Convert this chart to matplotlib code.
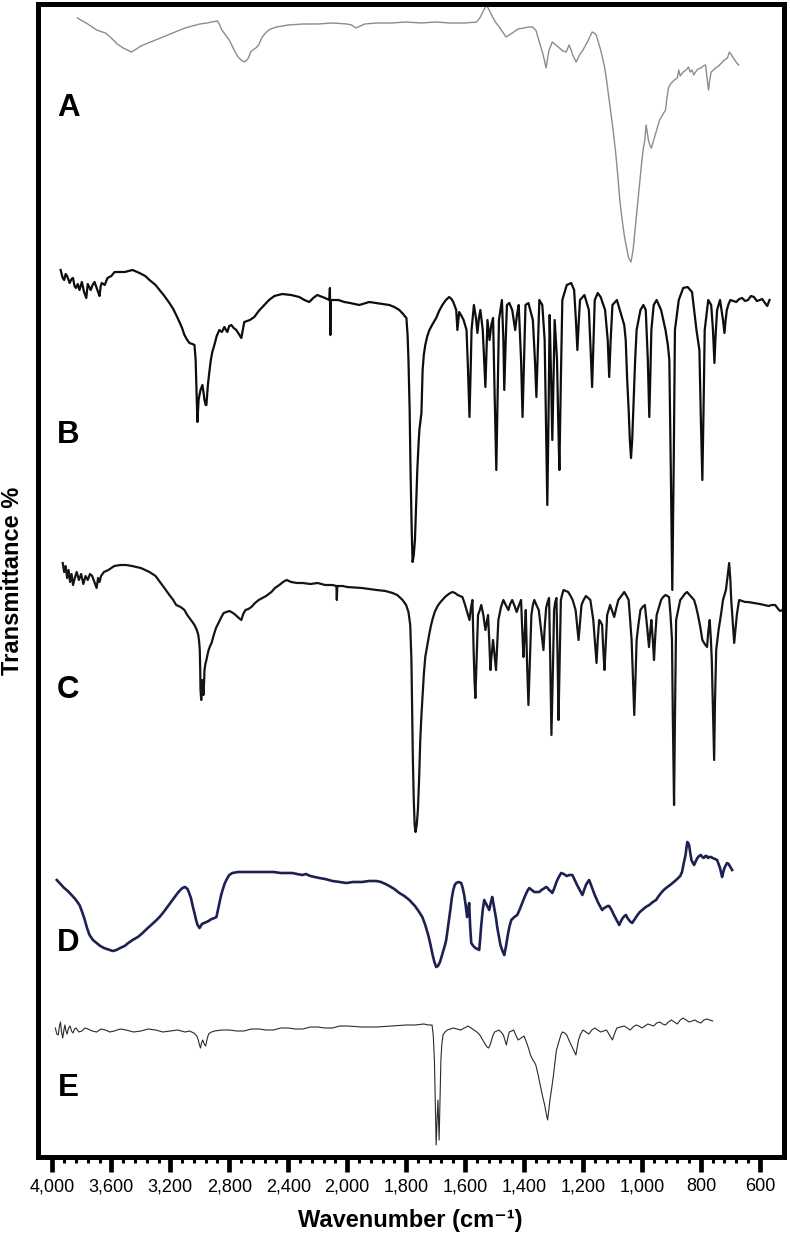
import numpy as np
import matplotlib
matplotlib.use("Agg")
import matplotlib.pyplot as plt
from matplotlib.ticker import FixedLocator, FixedFormatter

plt.rcParams['font.family'] = ['Liberation Sans', 'DejaVu Sans']

# spectra: (wavenumber cm-1, depth of trace from top of frame)
spec_a = np.array([
    (3830, 18), (3760, 24), (3700, 30), (3640, 33), (3600, 38), (3560, 44), (3520, 48), (3463, 52),
    (3430, 49), (3400, 46), (3350, 43), (3300, 40), (3250, 37), (3200, 34), (3150, 31), (3100, 28),
    (3050, 26), (3000, 24), (2950, 23), (2920, 22), (2879, 21), (2865, 25), (2850, 30), (2820, 36),
    (2800, 40), (2780, 46), (2760, 52), (2740, 57), (2720, 60), (2697, 62), (2680, 60), (2670, 58),
    (2655, 52), (2640, 50), (2620, 48), (2600, 45), (2580, 38), (2560, 34), (2540, 31), (2520, 29),
    (2480, 27), (2440, 26), (2400, 25), (2300, 24), (2200, 24), (2100, 23), (2000, 24), (1985, 25),
    (1970, 28), (1955, 26), (1940, 24), (1900, 23), (1850, 23), (1800, 22), (1750, 23), (1700, 22),
    (1650, 23), (1600, 23), (1561, 22), (1550, 18), (1540, 12), (1528, 5), (1520, 9), (1510, 15),
    (1497, 22), (1484, 27), (1470, 33), (1461, 37), (1450, 35), (1440, 33), (1420, 29), (1400, 28),
    (1385, 27), (1372, 27), (1360, 30), (1345, 45), (1335, 55), (1325, 68), (1320, 58), (1315, 50),
    (1304, 42), (1292, 45), (1280, 48), (1268, 51), (1257, 52), (1247, 45), (1240, 50), (1235, 55),
    (1223, 62), (1212, 55), (1200, 50), (1185, 42), (1169, 32), (1162, 33), (1155, 35), (1140, 50),
    (1128, 65), (1120, 80), (1111, 100), (1100, 125), (1090, 150), (1082, 175), (1075, 200),
    (1068, 218), (1060, 235), (1052, 248), (1045, 258), (1037, 262), (1030, 250), (1025, 235),
    (1020, 220), (1015, 205), (1010, 190), (1005, 175), (1000, 160), (995, 148), (990, 140),
    (986, 125), (982, 132), (978, 140), (972, 146), (968, 148), (962, 142), (955, 135), (948, 128),
    (940, 120), (930, 115), (920, 110), (915, 98), (910, 88), (905, 85), (900, 83), (890, 80),
    (880, 78), (875, 70), (870, 76), (860, 72), (850, 70), (842, 67), (836, 72), (830, 70),
    (824, 75), (818, 72), (810, 69), (800, 68), (792, 66), (784, 65), (779, 78), (774, 90),
    (770, 80), (765, 72), (757, 70), (750, 68), (740, 66), (730, 63), (720, 60), (710, 58),
    (703, 52), (696, 55), (690, 58), (685, 60), (678, 63), (672, 65),
])

spec_b = np.array([
    (3944, 270), (3930, 278), (3920, 280), (3910, 274), (3900, 276), (3883, 283), (3870, 279),
    (3860, 278), (3850, 286), (3840, 288), (3828, 284), (3816, 290), (3808, 286), (3800, 282),
    (3785, 292), (3770, 298), (3760, 284), (3750, 287), (3740, 290), (3727, 285), (3714, 282),
    (3700, 288), (3690, 292), (3680, 296), (3672, 286), (3665, 283), (3655, 284), (3645, 285),
    (3626, 278), (3600, 276), (3578, 272), (3540, 272), (3510, 272), (3456, 270), (3409, 273),
    (3370, 276), (3341, 280), (3300, 285), (3273, 290), (3240, 296), (3206, 303), (3180, 309),
    (3160, 315), (3138, 322), (3120, 328), (3104, 335), (3085, 340), (3070, 343), (3050, 344),
    (3036, 345), (3028, 360), (3022, 390), (3016, 422), (3012, 410), (3008, 400), (3002, 395),
    (2995, 390), (2990, 388), (2982, 385), (2975, 392), (2968, 400), (2960, 405), (2955, 405),
    (2945, 385), (2935, 372), (2925, 360), (2915, 352), (2901, 345), (2885, 336), (2867, 330),
    (2850, 332), (2833, 327), (2822, 330), (2813, 332), (2800, 326), (2786, 325), (2770, 328),
    (2752, 330), (2735, 334), (2718, 338), (2708, 330), (2698, 322), (2680, 321), (2660, 320),
    (2630, 317), (2600, 311), (2562, 305), (2530, 300), (2494, 296), (2440, 294), (2380, 295),
    (2325, 297), (2290, 300), (2257, 302), (2230, 298), (2203, 295), (2150, 298), (2121, 300),
    (2117, 288), (2114, 335), (2111, 300), (2080, 300), (2060, 300), (2040, 301), (2019, 302),
    (1990, 303), (1959, 305), (1925, 302), (1880, 304), (1857, 305), (1840, 307), (1823, 310),
    (1810, 314), (1805, 316), (1799, 318), (1795, 335), (1792, 360), (1788, 410), (1785, 470),
    (1781, 530), (1778, 562), (1774, 555), (1770, 540), (1766, 505), (1762, 470), (1758, 445),
    (1755, 430), (1748, 413), (1744, 370), (1740, 355), (1735, 345), (1728, 336), (1721, 330),
    (1710, 324), (1698, 318), (1688, 311), (1677, 305), (1665, 300), (1654, 297), (1646, 299),
    (1640, 302), (1630, 310), (1626, 330), (1620, 312), (1612, 316), (1605, 320), (1595, 330),
    (1590, 370), (1585, 417), (1581, 370), (1578, 330), (1570, 305), (1563, 318), (1558, 333),
    (1553, 318), (1548, 310), (1540, 330), (1531, 387), (1527, 350), (1524, 320), (1517, 340),
    (1511, 325), (1505, 318), (1500, 390), (1494, 470), (1489, 390), (1485, 320), (1475, 300),
    (1470, 340), (1467, 390), (1462, 340), (1458, 305), (1450, 303), (1440, 310), (1430, 330),
    (1424, 315), (1418, 305), (1410, 360), (1405, 417), (1400, 360), (1395, 305), (1385, 303),
    (1370, 320), (1363, 360), (1358, 397), (1353, 350), (1348, 300), (1338, 305), (1330, 340),
    (1325, 430), (1321, 505), (1317, 420), (1313, 315), (1308, 380), (1304, 440), (1300, 380),
    (1296, 320), (1288, 360), (1284, 420), (1280, 470), (1275, 380), (1270, 300), (1255, 285),
    (1240, 283), (1230, 290), (1224, 320), (1219, 350), (1214, 320), (1210, 300), (1195, 295),
    (1180, 310), (1174, 350), (1169, 387), (1164, 340), (1160, 300), (1150, 293), (1140, 297),
    (1125, 310), (1116, 340), (1111, 377), (1106, 340), (1100, 305), (1085, 300), (1070, 315),
    (1060, 325), (1055, 340), (1050, 380), (1045, 410), (1041, 440), (1037, 458), (1033, 440),
    (1028, 400), (1023, 360), (1018, 330), (1005, 310), (995, 305), (987, 310), (980, 360),
    (975, 417), (971, 370), (968, 330), (960, 305), (950, 300), (935, 310), (920, 330), (912, 345),
    (907, 360), (902, 470), (897, 590), (892, 460), (888, 330), (875, 300), (860, 288), (845, 287),
    (830, 292), (815, 330), (805, 350), (800, 420), (795, 480), (791, 410), (787, 330), (775, 300),
    (765, 305), (759, 330), (754, 363), (750, 335), (745, 310), (735, 300), (725, 320), (720, 333),
    (716, 320), (712, 310), (706, 304), (700, 300), (690, 301), (680, 302), (670, 299), (660, 298),
    (650, 301), (640, 300), (630, 296), (620, 297), (610, 301), (600, 300), (592, 299), (585, 302),
    (575, 306), (567, 300),
])

spec_c = np.array([
    (3930, 563), (3920, 572), (3910, 566), (3900, 578), (3890, 570), (3880, 582), (3870, 574),
    (3860, 585), (3848, 578), (3835, 572), (3820, 580), (3805, 574), (3790, 584), (3775, 576),
    (3760, 580), (3745, 574), (3730, 576), (3715, 582), (3700, 588), (3690, 578), (3680, 582),
    (3670, 576), (3650, 572), (3620, 570), (3580, 566), (3540, 565), (3500, 565), (3460, 566),
    (3400, 568), (3341, 572), (3300, 576), (3280, 580), (3240, 588), (3206, 595), (3180, 600),
    (3160, 605), (3130, 607), (3104, 610), (3085, 615), (3070, 618), (3050, 622), (3036, 625),
    (3020, 630), (3010, 635), (3004, 642), (3000, 650), (2997, 670), (2995, 690), (2990, 700),
    (2986, 690), (2982, 680), (2978, 688), (2975, 695), (2970, 680), (2968, 670), (2962, 664),
    (2955, 660), (2948, 655), (2940, 650), (2930, 646), (2920, 643), (2905, 635), (2890, 628),
    (2870, 622), (2853, 617), (2838, 613), (2820, 612), (2800, 611), (2785, 612), (2765, 614),
    (2750, 616), (2735, 618), (2718, 620), (2705, 614), (2690, 610), (2670, 609), (2650, 607),
    (2625, 603), (2600, 600), (2575, 598), (2550, 596), (2514, 592), (2490, 588), (2460, 585),
    (2435, 582), (2411, 580), (2380, 582), (2340, 583), (2300, 583), (2250, 584), (2200, 583),
    (2150, 585), (2100, 585), (2073, 586), (2070, 600), (2067, 586), (2030, 586), (2000, 587),
    (1950, 588), (1900, 590), (1870, 591), (1846, 593), (1830, 595), (1812, 600), (1800, 605),
    (1792, 612), (1786, 625), (1782, 660), (1780, 700), (1777, 760), (1774, 800), (1771, 825),
    (1768, 832), (1764, 825), (1760, 810), (1756, 780), (1752, 740), (1748, 715), (1745, 700),
    (1740, 675), (1735, 657), (1728, 645), (1722, 635), (1716, 626), (1711, 620), (1703, 612),
    (1695, 607), (1686, 603), (1677, 600), (1668, 597), (1660, 595), (1650, 593), (1643, 592),
    (1634, 593), (1625, 595), (1617, 596), (1609, 597), (1602, 603), (1595, 610), (1590, 615),
    (1585, 620), (1580, 608), (1575, 600), (1571, 650), (1568, 680), (1565, 698), (1561, 660),
    (1556, 615), (1550, 610), (1545, 605), (1538, 615), (1531, 630), (1526, 622), (1522, 615),
    (1518, 640), (1514, 670), (1510, 655), (1505, 640), (1500, 655), (1495, 670), (1491, 645),
    (1487, 620), (1478, 607), (1470, 600), (1462, 605), (1453, 610), (1447, 604), (1440, 600),
    (1432, 606), (1425, 612), (1418, 606), (1410, 600), (1406, 630), (1402, 657), (1398, 635),
    (1394, 610), (1390, 660), (1385, 705), (1380, 660), (1375, 615), (1370, 605), (1365, 600),
    (1358, 605), (1350, 610), (1342, 630), (1334, 650), (1330, 628), (1325, 608), (1320, 602),
    (1315, 598), (1311, 660), (1307, 735), (1302, 670), (1298, 610), (1294, 602), (1290, 598),
    (1286, 660), (1283, 720), (1279, 660), (1275, 600), (1270, 594), (1266, 590), (1258, 591),
    (1250, 592), (1242, 596), (1235, 600), (1230, 605), (1225, 610), (1220, 625), (1215, 640),
    (1210, 622), (1205, 605), (1198, 600), (1190, 596), (1182, 598), (1175, 600), (1170, 610),
    (1165, 620), (1160, 640), (1154, 663), (1150, 640), (1145, 620), (1140, 622), (1135, 625),
    (1131, 650), (1127, 670), (1122, 640), (1118, 615), (1113, 610), (1108, 605), (1101, 611),
    (1094, 617), (1087, 608), (1080, 600), (1070, 596), (1060, 592), (1052, 596), (1045, 600),
    (1040, 620), (1035, 640), (1030, 680), (1026, 715), (1022, 680), (1018, 640), (1012, 625),
    (1005, 610), (998, 607), (990, 605), (983, 625), (976, 647), (972, 632), (968, 620), (963, 640),
    (959, 660), (955, 637), (950, 615), (942, 607), (935, 600), (928, 597), (920, 595), (914, 596),
    (908, 597), (903, 615), (898, 640), (895, 720), (891, 805), (888, 720), (884, 620), (877, 610),
    (870, 600), (862, 597), (855, 594), (851, 593), (847, 592), (841, 594), (835, 596), (829, 598),
    (823, 600), (816, 607), (810, 615), (802, 627), (795, 640), (787, 644), (779, 647), (775, 632),
    (770, 620), (766, 640), (763, 660), (759, 710), (755, 760), (752, 700), (748, 650), (744, 640),
    (740, 630), (732, 615), (725, 600), (720, 595), (715, 590), (710, 578), (704, 563), (700, 580),
    (697, 600), (692, 622), (687, 643), (682, 628), (678, 615), (674, 607), (670, 600), (660, 601),
    (650, 602), (640, 602), (620, 603), (600, 604), (585, 605), (570, 606), (560, 605), (548, 605),
    (540, 608), (535, 610), (530, 611), (524, 610),
])

spec_d = np.array([
    (3970, 880), (3945, 884), (3920, 888), (3895, 891), (3870, 895), (3845, 899), (3816, 905),
    (3798, 912), (3780, 920), (3765, 928), (3748, 935), (3725, 940), (3700, 943), (3675, 946),
    (3650, 948), (3630, 949), (3612, 950), (3590, 951), (3565, 950), (3540, 948), (3510, 946),
    (3485, 943), (3456, 940), (3420, 937), (3388, 933), (3360, 929), (3330, 925), (3300, 921),
    (3273, 917), (3245, 912), (3220, 907), (3200, 903), (3185, 900), (3165, 896), (3150, 893),
    (3132, 890), (3117, 888), (3100, 887), (3083, 889), (3072, 893), (3060, 898), (3048, 906),
    (3036, 913), (3025, 920), (3015, 925), (3002, 928), (2993, 926), (2985, 924), (2970, 923),
    (2955, 922), (2940, 921), (2920, 919), (2900, 918), (2887, 917), (2877, 910), (2867, 903),
    (2855, 895), (2845, 890), (2832, 884), (2820, 880), (2800, 875), (2779, 873), (2740, 872),
    (2700, 872), (2650, 872), (2600, 872), (2550, 872), (2500, 872), (2450, 873), (2400, 873),
    (2372, 873), (2340, 874), (2304, 875), (2280, 874), (2250, 876), (2220, 877), (2189, 878),
    (2150, 879), (2100, 881), (2050, 882), (2006, 883), (1980, 882), (1950, 882), (1925, 881),
    (1901, 881), (1885, 882), (1870, 884), (1857, 886), (1840, 889), (1823, 893), (1806, 896),
    (1789, 900), (1770, 906), (1758, 911), (1745, 917), (1735, 925), (1725, 935), (1717, 945),
    (1710, 955), (1704, 962), (1698, 967), (1692, 966), (1685, 962), (1680, 957), (1675, 952),
    (1669, 946), (1664, 940), (1657, 925), (1650, 910), (1645, 898), (1640, 890), (1635, 885),
    (1630, 883), (1622, 882), (1613, 883), (1608, 888), (1603, 895), (1598, 905), (1593, 917),
    (1589, 908), (1586, 903), (1583, 925), (1579, 943), (1572, 946), (1565, 948), (1558, 949),
    (1552, 950), (1549, 940), (1545, 925), (1540, 910), (1535, 900), (1530, 903), (1525, 906),
    (1518, 910), (1513, 903), (1508, 897), (1504, 903), (1500, 910), (1495, 918), (1491, 927),
    (1485, 937), (1480, 945), (1473, 951), (1467, 955), (1461, 946), (1455, 935), (1449, 926),
    (1443, 920), (1433, 917), (1423, 915), (1414, 909), (1406, 903), (1398, 897), (1392, 893),
    (1387, 890), (1382, 888), (1374, 890), (1365, 892), (1356, 892), (1348, 892), (1341, 890),
    (1335, 889), (1330, 888), (1325, 887), (1320, 888), (1315, 890), (1310, 891), (1304, 893),
    (1297, 888), (1290, 882), (1282, 877), (1274, 873), (1265, 874), (1255, 876), (1246, 875),
    (1236, 875), (1228, 880), (1220, 885), (1211, 890), (1202, 895), (1196, 890), (1190, 885),
    (1184, 882), (1179, 880), (1170, 887), (1160, 895), (1148, 903), (1135, 910), (1128, 908),
    (1122, 907), (1116, 906), (1111, 906), (1103, 910), (1095, 915), (1086, 920), (1077, 925),
    (1071, 921), (1065, 918), (1059, 916), (1054, 915), (1049, 918), (1044, 920), (1038, 922),
    (1033, 923), (1024, 919), (1015, 915), (1007, 912), (999, 910), (987, 907), (975, 905),
    (963, 902), (952, 900), (943, 896), (935, 893), (926, 890), (918, 888), (909, 886), (900, 884),
    (892, 882), (884, 880), (877, 878), (870, 876), (864, 872), (858, 863), (852, 855), (849, 848),
    (846, 842), (843, 843), (840, 845), (836, 853), (832, 860), (827, 863), (823, 865), (817, 861),
    (812, 858), (806, 856), (800, 855), (795, 857), (790, 858), (785, 856), (780, 856), (776, 858),
    (772, 857), (766, 857), (760, 858), (752, 859), (745, 860), (740, 864), (735, 868), (731, 873),
    (728, 877), (724, 872), (720, 868), (715, 865), (711, 863), (706, 864), (702, 866), (698, 868),
    (694, 870),
])

spec_e = np.array([
    (3980, 1028), (3970, 1034), (3960, 1035), (3952, 1026), (3945, 1022), (3938, 1032),
    (3930, 1038), (3922, 1030), (3915, 1025), (3908, 1031), (3900, 1034), (3890, 1028),
    (3880, 1026), (3870, 1031), (3860, 1033), (3850, 1029), (3840, 1028), (3820, 1032),
    (3800, 1031), (3780, 1028), (3760, 1029), (3730, 1031), (3700, 1032), (3670, 1029),
    (3640, 1030), (3610, 1032), (3580, 1031), (3540, 1029), (3500, 1030), (3450, 1032),
    (3400, 1031), (3350, 1029), (3300, 1030), (3250, 1032), (3200, 1031), (3150, 1030),
    (3100, 1032), (3070, 1031), (3040, 1033), (3020, 1036), (3010, 1040), (3002, 1045),
    (2995, 1048), (2988, 1043), (2980, 1040), (2970, 1044), (2960, 1046), (2950, 1039),
    (2940, 1034), (2920, 1032), (2900, 1031), (2850, 1030), (2800, 1030), (2750, 1031),
    (2700, 1031), (2650, 1029), (2600, 1029), (2550, 1030), (2500, 1030), (2450, 1028),
    (2400, 1028), (2350, 1029), (2300, 1029), (2250, 1027), (2200, 1027), (2150, 1028),
    (2100, 1028), (2050, 1026), (2000, 1026), (1950, 1027), (1900, 1027), (1850, 1026),
    (1800, 1025), (1770, 1025), (1740, 1024), (1725, 1025), (1712, 1025), (1708, 1035),
    (1704, 1060), (1701, 1100), (1698, 1145), (1695, 1120), (1692, 1100), (1690, 1120),
    (1688, 1140), (1685, 1100), (1682, 1060), (1679, 1045), (1675, 1035), (1668, 1032),
    (1660, 1030), (1650, 1029), (1640, 1028), (1628, 1029), (1615, 1030), (1602, 1028),
    (1590, 1026), (1580, 1028), (1570, 1030), (1560, 1032), (1550, 1035), (1540, 1040),
    (1530, 1045), (1525, 1047), (1520, 1048), (1515, 1045), (1510, 1040), (1505, 1035),
    (1500, 1032), (1492, 1031), (1485, 1030), (1478, 1032), (1470, 1035), (1465, 1040),
    (1460, 1045), (1455, 1038), (1450, 1032), (1442, 1031), (1435, 1030), (1428, 1035),
    (1420, 1040), (1410, 1038), (1400, 1036), (1392, 1042), (1385, 1048), (1378, 1055),
    (1370, 1060), (1365, 1062), (1360, 1065), (1352, 1075), (1345, 1085), (1338, 1095),
    (1330, 1105), (1325, 1113), (1320, 1120), (1316, 1110), (1312, 1100), (1306, 1088),
    (1300, 1075), (1295, 1062), (1290, 1050), (1285, 1045), (1280, 1040), (1275, 1035),
    (1270, 1032), (1262, 1033), (1255, 1035), (1248, 1040), (1240, 1045), (1232, 1050),
    (1224, 1055), (1220, 1048), (1215, 1040), (1208, 1034), (1200, 1030), (1190, 1032),
    (1180, 1034), (1170, 1030), (1160, 1028), (1150, 1030), (1140, 1032), (1130, 1031),
    (1120, 1030), (1110, 1035), (1100, 1040), (1092, 1033), (1085, 1028), (1072, 1027),
    (1060, 1026), (1050, 1028), (1040, 1030), (1030, 1027), (1020, 1025), (1010, 1026),
    (1000, 1028), (990, 1026), (980, 1024), (970, 1025), (960, 1026), (950, 1023), (940, 1022),
    (930, 1024), (920, 1025), (910, 1022), (900, 1020), (890, 1022), (880, 1024), (870, 1020),
    (860, 1018), (850, 1020), (840, 1022), (830, 1021), (820, 1020), (810, 1022), (800, 1023),
    (790, 1020), (780, 1019), (770, 1020), (760, 1021),
])

spectra = [spec_a, spec_b, spec_c, spec_d, spec_e]
panel_labels = ['A', 'B', 'C', 'D', 'E']
label_depth = [108, 435, 690, 943, 1088]
line_colors = ['#8c8c8c', '#0d0d0d', '#151515', '#1c2152', '#2a2a2a']
line_widths = [1.0, 1.6, 1.6, 1.9, 0.8]

major_ticks = [4000, 3600, 3200, 2800, 2400, 2000, 1800, 1600, 1400, 1200, 1000, 800, 600]
tick_labels = ['4,000', '3,600', '3,200', '2,800', '2,400', '2,000', '1,800', '1,600',
               '1,400', '1,200', '1,000', '800', '600']


# IR axis: 4000-2000 region drawn at half the scale of the region below 2000
def fwd(w):
    w = np.asarray(w, dtype=float)
    return np.where(w > 2000, 1000 + w / 2.0, w)


def inv(v):
    v = np.asarray(v, dtype=float)
    return np.where(v > 2000, 2.0 * (v - 1000), v)


fig = plt.figure(figsize=(7.9, 12.35), dpi=100)
ax = fig.add_axes([37.5 / 790, 1 - 1157.2 / 1235, (784 - 37.5) / 790, (1157.2 - 4) / 1235])
ax.set_xscale('function', functions=(fwd, inv))

for spec, c, lw in zip(spectra, line_colors, line_widths):
    ax.plot(spec[:, 0], spec[:, 1], color=c, lw=lw)

for lab, d in zip(panel_labels, label_depth):
    ax.text(3891, d, lab, fontsize=22.5, fontweight='bold', ha='center', va='center')

ax.set_xlim(4101, 518)
ax.set_ylim(1157.2, 4)

minor = [v for v in np.arange(4000, 2000, -80) if v not in major_ticks]
minor += [v for v in np.arange(2000, 560, -40) if v not in major_ticks]
ax.xaxis.set_major_locator(FixedLocator(major_ticks))
ax.xaxis.set_major_formatter(FixedFormatter(tick_labels))
ax.xaxis.set_minor_locator(FixedLocator(minor))
ax.tick_params(axis='x', which='major', direction='out', length=10.5, width=3.4,
               labelsize=13, pad=4.5, colors='black')
ax.tick_params(axis='x', which='minor', direction='out', length=4.3, width=2.2)
ax.set_yticks([])

for s in ax.spines.values():
    s.set_linewidth(3.6)
    s.set_color('black')

ax.set_xlabel('Wavenumber (cm\u207b\u00b9)', fontsize=17, fontweight='bold', va='center')
ax.xaxis.set_label_coords(0.5, (1235 - 1221 - (1235 - 1157.2)) / (1157.2 - 4))
ax.set_ylabel('Transmittance %', fontsize=17, fontweight='bold', va='center')
ax.yaxis.set_label_coords((12.5 - 37.5) / (784 - 37.5), 0.5)

fig.savefig('out.png', dpi=100)
